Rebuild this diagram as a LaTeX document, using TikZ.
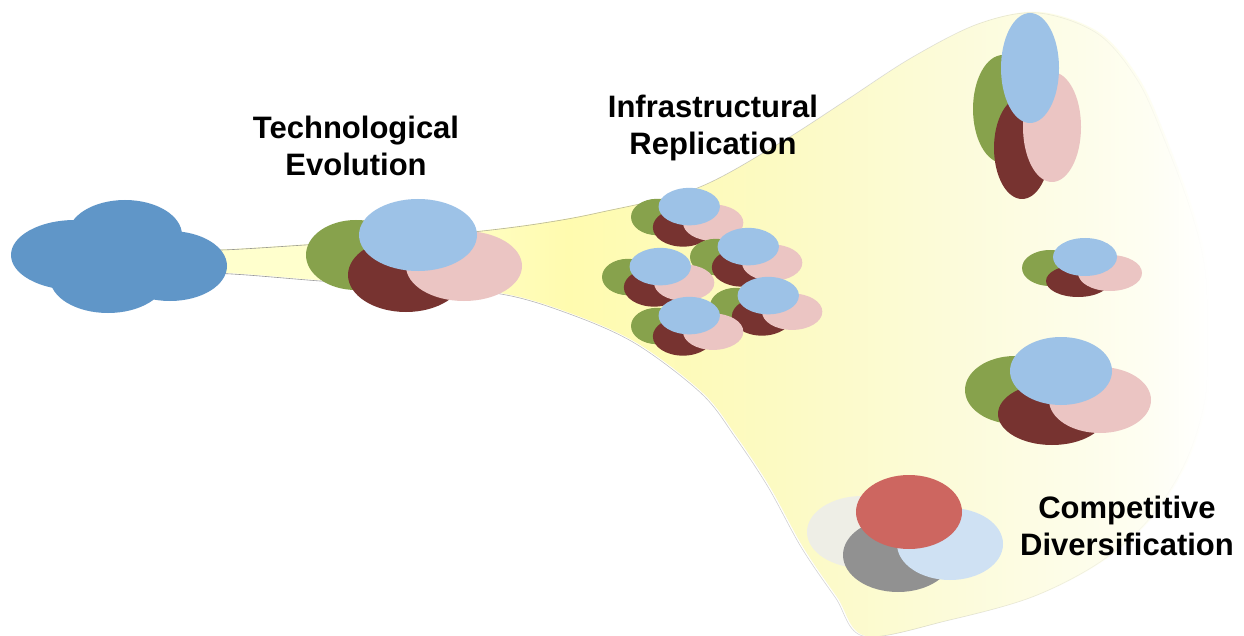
\documentclass[tikz,border=0pt]{standalone}
\usepackage{fontspec}
\setmainfont{Liberation Sans}
\usetikzlibrary{fadings}
\definecolor{cgreen}{HTML}{87A24C}
\definecolor{cdred}{HTML}{773330}
\definecolor{cpink}{HTML}{EBC5C3}
\definecolor{cblue}{HTML}{9DC2E7}
\definecolor{ccloud}{HTML}{6096C8}
\definecolor{clgray}{HTML}{EEEEE6}
\definecolor{cgray}{HTML}{919191}
\definecolor{clblue}{HTML}{CFE1F3}
\definecolor{cred}{HTML}{CD6660}
\definecolor{fyA}{RGB}{255,255,205}
\definecolor{fyB}{RGB}{255,251,175}
\definecolor{fyC}{RGB}{252,250,195}
\definecolor{fyD}{RGB}{252,251,218}
\definecolor{fyE}{RGB}{254,254,242}
\pgfdeclarehorizontalshading{funnelshade}{100bp}{color(0bp)=(fyA); color(25bp)=(fyA); color(38bp)=(fyA); color(45bp)=(fyB); color(55bp)=(fyC); color(63bp)=(fyD); color(72bp)=(fyE); color(75bp)=(white); color(100bp)=(white)}
\tikzset{
  lbl/.style={font=\bfseries\fontsize{31}{37}\selectfont, align=center, inner sep=0pt},
  funnelline/.style={draw=black!45, line width=0.6pt, path fading=east},
  cluster/.pic={
    \fill[cgreen] (0,0) ellipse [x radius=50, y radius=35];
    \fill[cdred] (50,20) ellipse [x radius=58, y radius=37];
    \fill[cpink] (108,11) ellipse [x radius=58, y radius=35];
    \fill[cblue] (62,-20) ellipse [x radius=59, y radius=36];
  }
}
\begin{document}
\begin{tikzpicture}[x=1pt,y=-1pt]
\useasboundingbox (0,0) rectangle (1244,636);
\fill[white] (0,0) rectangle (1244,636);
% funnel fill
\shade[shading=funnelshade]
  plot[smooth cycle, tension=0.55] coordinates {
  (150,252) (230,249) (310,244) (400,238) (477,231) (540,223) (600,212)
  (697,188) (780,143) (847,100) (913,57) (980,23) (1040,12) (1100,33)
  (1140,80) (1167,140) (1193,210) (1207,267) (1210,333) (1207,400)
  (1187,463) (1150,520) (1100,563) (1033,597) (950,620) (866,636)
  (837,597) (803,547) (770,487) (737,437) (703,393) (637,343) (570,313)
  (500,293) (400,286) (317,280) (227,273) (150,272)};
% funnel outline, fading out to the right
\draw[funnelline]
  plot[smooth cycle, tension=0.55] coordinates {
  (150,252) (230,249) (310,244) (400,238) (477,231) (540,223) (600,212)
  (697,188) (780,143) (847,100) (913,57) (980,23) (1040,12) (1100,33)
  (1140,80) (1167,140) (1193,210) (1207,267) (1210,333) (1207,400)
  (1187,463) (1150,520) (1100,563) (1033,597) (950,620) (866,636)
  (837,597) (803,547) (770,487) (737,437) (703,393) (637,343) (570,313)
  (500,293) (400,286) (317,280) (227,273) (150,272)};
% cloud
\fill[ccloud] (75,255) ellipse [x radius=64, y radius=35];
\fill[ccloud] (125,235) ellipse [x radius=57, y radius=35];
\fill[ccloud] (170,266) ellipse [x radius=57, y radius=35];
\fill[ccloud] (108,278) ellipse [x radius=58, y radius=35];
% technological evolution cluster
\pic at (356,255) {cluster};
% infrastructural replication clusters
\pic[scale=0.52] at (657,217) {cluster};
\pic[scale=0.52] at (716,257) {cluster};
\pic[scale=0.52] at (628,277) {cluster};
\pic[scale=0.52] at (736,306) {cluster};
\pic[scale=0.52] at (657,326) {cluster};
% right top vertical cluster
\fill[cgreen] (1003,109) ellipse [x radius=30, y radius=54];
\fill[cdred] (1022,148) ellipse [x radius=28, y radius=51];
\fill[cpink] (1052,127) ellipse [x radius=29, y radius=55];
\fill[cblue] (1030,68) ellipse [x radius=29, y radius=55];
% right small cluster
\fill[cgreen] (1050,268) ellipse [x radius=28, y radius=18];
\fill[cdred] (1078,281) ellipse [x radius=32, y radius=16];
\fill[cpink] (1110,273) ellipse [x radius=32, y radius=18];
\fill[cblue] (1085,257) ellipse [x radius=32, y radius=19];
% right big cluster
\fill[cgreen] (1015,390) ellipse [x radius=50, y radius=34];
\fill[cdred] (1052,414) ellipse [x radius=54, y radius=31];
\fill[cpink] (1100,400) ellipse [x radius=51, y radius=33];
\fill[cblue] (1061,371) ellipse [x radius=51, y radius=34];
% competitive cluster
\fill[clgray] (862,532) ellipse [x radius=55, y radius=36];
\fill[cgray] (898,555) ellipse [x radius=55, y radius=37];
\fill[clblue] (950,544) ellipse [x radius=53, y radius=36];
\fill[cred] (909,512) ellipse [x radius=53, y radius=37];
% labels
\node[lbl] (tech) at (356,146) {Technological\\Evolution};
\node[lbl] (infra) at (713,128) {Infrastructural\\Replication};
\node[lbl] (comp) at (1127,526) {Competitive\\Diversification};
\end{tikzpicture}
\end{document}
